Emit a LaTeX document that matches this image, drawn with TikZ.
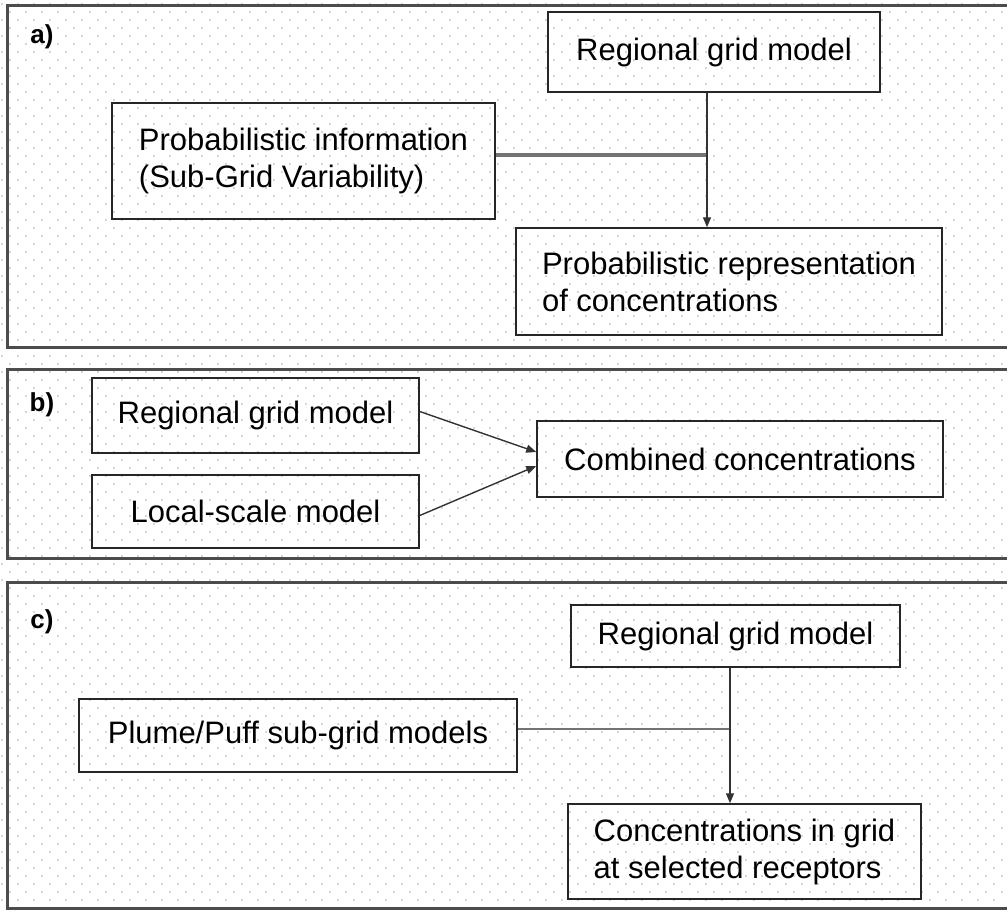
\documentclass[tikz,border=0pt]{standalone}
\usepackage{fontspec}
\setmainfont{Liberation Sans}
\usetikzlibrary{arrows.meta}
\tikzset{
  frame/.style={draw=black!70, line width=3pt},
  box/.style={rectangle, draw=black!85, line width=1.5pt, align=left, inner sep=0pt,
    font=\fontsize{31}{37}\selectfont},
  tag/.style={font=\fontsize{26}{30}\selectfont\bfseries},
  feed/.style={draw=black!55, line width=#1},
  arr/.style={draw=black!80, line width=1.4pt, -{Triangle[length=10pt,width=8pt]}},
  dotc/.style={fill=gray!65},
}

\begin{document}
\begin{tikzpicture}[x=1pt, y=-1pt]

  \useasboundingbox (0,0) rectangle (1007,911);
  \clip (0,0) rectangle (1007,911);

  % dotted background
  \foreach \r in {0,...,113}
    \foreach \c in {0,...,63}
      \fill[dotc] ({\c*16+mod(\r,2)*8+2},{\r*8+4}) circle (0.9pt);

  % panel frames (open to the right)
  \draw[frame] (7,5)   rectangle (1030,347);
  \draw[frame] (7,369) rectangle (1030,558);
  \draw[frame] (7,582) rectangle (1030,908);

  % panel a)
  \node[tag] (lblA) at (42,37) {a)};
  \node[box, minimum width=332pt, minimum height=80pt]  (regA)  at (714,52)    {Regional grid model};
  \node[box, minimum width=383pt, minimum height=116pt] (probA) at (303.5,161) {Probabilistic information\\(Sub-Grid Variability)};
  \node[box, minimum width=426pt, minimum height=107pt] (repA)  at (729,281.5) {Probabilistic representation\\of concentrations};
  \coordinate (jA) at (707,155);

  \draw[feed=4pt] (jA -| probA.east) -- (jA);
  \draw[arr] (regA.south -| jA) -- (repA.north -| jA);

  % panel b)
  \node[tag] (lblB) at (42,405) {b)};
  \node[box, minimum width=327pt, minimum height=75pt] (regB)  at (255.5,415.5) {Regional grid model};
  \node[box, minimum width=327pt, minimum height=73pt] (locB)  at (255.5,511.5) {Local-scale model};
  \node[box, minimum width=406pt, minimum height=76pt] (combB) at (740,459)     {Combined concentrations};

  \draw[arr] ([yshift=4pt]regB.east)  -- ([yshift=7pt]combB.west);
  \draw[arr] ([yshift=-4pt]locB.east) -- ([yshift=-7pt]combB.west);

  % panel c)
  \node[tag] (lblC) at (42,622) {c)};
  \node[box, minimum width=329pt, minimum height=62pt] (regC)   at (735.5,636)   {Regional grid model};
  \node[box, minimum width=438pt, minimum height=73pt] (plumeC) at (298,735.5)   {Plume/Puff sub-grid models};
  \node[box, minimum width=353pt, minimum height=95pt] (concC)  at (744.5,851.5) {Concentrations in grid\\at selected receptors};
  \coordinate (jC) at (730,729);

  \draw[feed=2pt] (jC -| plumeC.east) -- (jC);
  \draw[arr] (regC.south -| jC) -- (concC.north -| jC);

\end{tikzpicture}
\end{document}
